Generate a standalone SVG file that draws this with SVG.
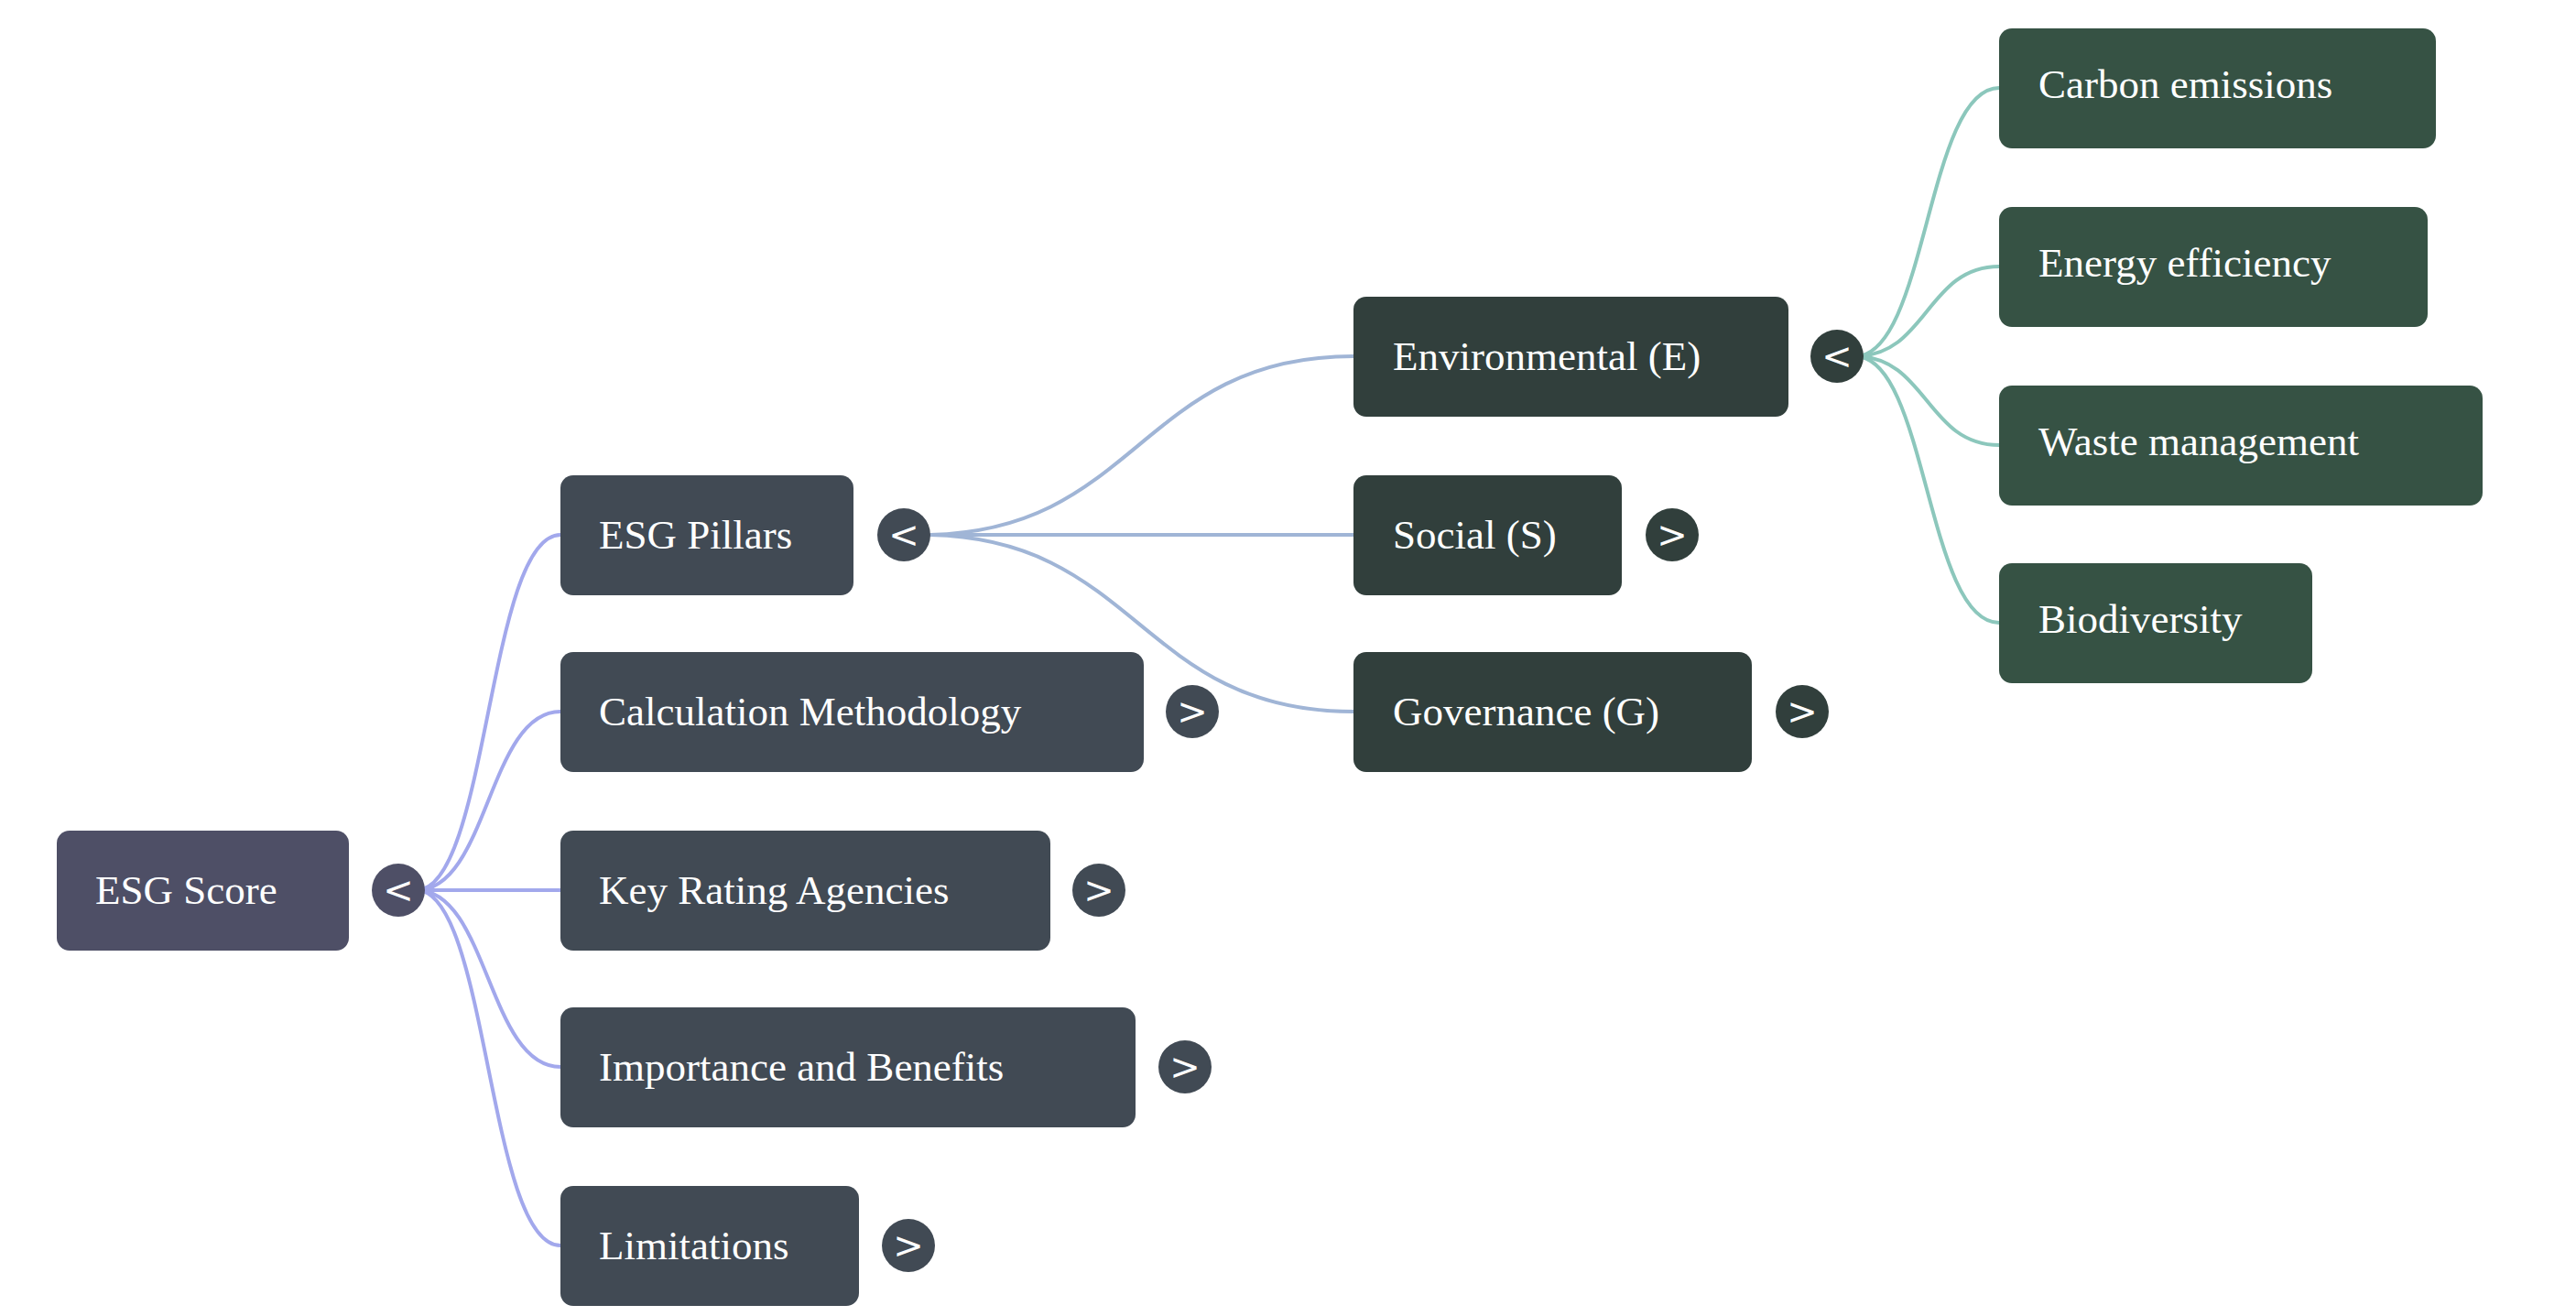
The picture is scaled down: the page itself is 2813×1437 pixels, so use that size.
<svg xmlns="http://www.w3.org/2000/svg" width="2813" height="1437" viewBox="0 0 2813 1437">
<style>
.n rect{rx:14;ry:14}
.t{font-family:"Liberation Serif",serif;font-size:45px;fill:#ffffff}
.g{font-family:"DejaVu Sans",sans-serif;font-size:40px;fill:#ffffff;text-anchor:middle}
.l path{fill:none;stroke-width:4}
.r{fill:#4e4f66}.a{fill:#414a54}.b{fill:#313f3c}.c{fill:#365244}
</style>
<rect width="2813" height="1437" fill="#ffffff"/>
<g class="l" id="links">
<g stroke="#a2a8ec">
<path d="M455,972 C533,972 533,584 612,584"/>
<path d="M455,972 C533,972 533,777 612,777"/>
<path d="M455,972 L612,972"/>
<path d="M455,972 C533,972 533,1165 612,1165"/>
<path d="M455,972 C533,972 533,1360 612,1360"/>
</g>
<g stroke="#a0b5d6">
<path d="M1007,584 C1243,584 1243,389 1478,389"/>
<path d="M1007,584 L1478,584"/>
<path d="M1007,584 C1243,584 1243,777 1478,777"/>
</g>
<g stroke="#8cc7bc">
<path d="M2026,389 C2104,389 2104,96 2183,96"/>
<path d="M2026,389 C2104,389 2104,291 2183,291"/>
<path d="M2026,389 C2104,389 2104,486 2183,486"/>
<path d="M2026,389 C2104,389 2104,680 2183,680"/>
</g>
</g>
<g class="n" id="root"><rect class="r" x="62" y="907" width="319" height="131"/><text class="t" x="104" y="987">ESG Score</text><circle class="r" cx="435" cy="972" r="29"/><text class="g" x="435" y="986">&lt;</text></g>
<g class="n" id="pillars"><rect class="a" x="612" y="519" width="320" height="131"/><text class="t" x="654" y="599">ESG Pillars</text><circle class="a" cx="987" cy="584" r="29"/><text class="g" x="987" y="598">&lt;</text></g>
<g class="n" id="calc"><rect class="a" x="612" y="712" width="637" height="131"/><text class="t" x="654" y="792">Calculation Methodology</text><circle class="a" cx="1302" cy="777" r="29"/><text class="g" x="1302" y="791">&gt;</text></g>
<g class="n" id="agencies"><rect class="a" x="612" y="907" width="535" height="131"/><text class="t" x="654" y="987">Key Rating Agencies</text><circle class="a" cx="1200" cy="972" r="29"/><text class="g" x="1200" y="986">&gt;</text></g>
<g class="n" id="importance"><rect class="a" x="612" y="1100" width="628" height="131"/><text class="t" x="654" y="1180">Importance and Benefits</text><circle class="a" cx="1294" cy="1165" r="29"/><text class="g" x="1294" y="1179">&gt;</text></g>
<g class="n" id="limitations"><rect class="a" x="612" y="1295" width="326" height="131"/><text class="t" x="654" y="1375">Limitations</text><circle class="a" cx="992" cy="1360" r="29"/><text class="g" x="992" y="1374">&gt;</text></g>
<g class="n" id="env"><rect class="b" x="1478" y="324" width="475" height="131"/><text class="t" x="1521" y="404">Environmental (E)</text><circle class="b" cx="2006" cy="389" r="29"/><text class="g" x="2006" y="403">&lt;</text></g>
<g class="n" id="social"><rect class="b" x="1478" y="519" width="293" height="131"/><text class="t" x="1521" y="599">Social (S)</text><circle class="b" cx="1826" cy="584" r="29"/><text class="g" x="1826" y="598">&gt;</text></g>
<g class="n" id="gov"><rect class="b" x="1478" y="712" width="435" height="131"/><text class="t" x="1521" y="792">Governance (G)</text><circle class="b" cx="1968" cy="777" r="29"/><text class="g" x="1968" y="791">&gt;</text></g>
<g class="n" id="carbon"><rect class="c" x="2183" y="31" width="477" height="131"/><text class="t" x="2226" y="107">Carbon emissions</text></g>
<g class="n" id="energy"><rect class="c" x="2183" y="226" width="468" height="131"/><text class="t" x="2226" y="302">Energy efficiency</text></g>
<g class="n" id="waste"><rect class="c" x="2183" y="421" width="528" height="131"/><text class="t" x="2226" y="497">Waste management</text></g>
<g class="n" id="bio"><rect class="c" x="2183" y="615" width="342" height="131"/><text class="t" x="2226" y="691">Biodiversity</text></g>
</svg>
